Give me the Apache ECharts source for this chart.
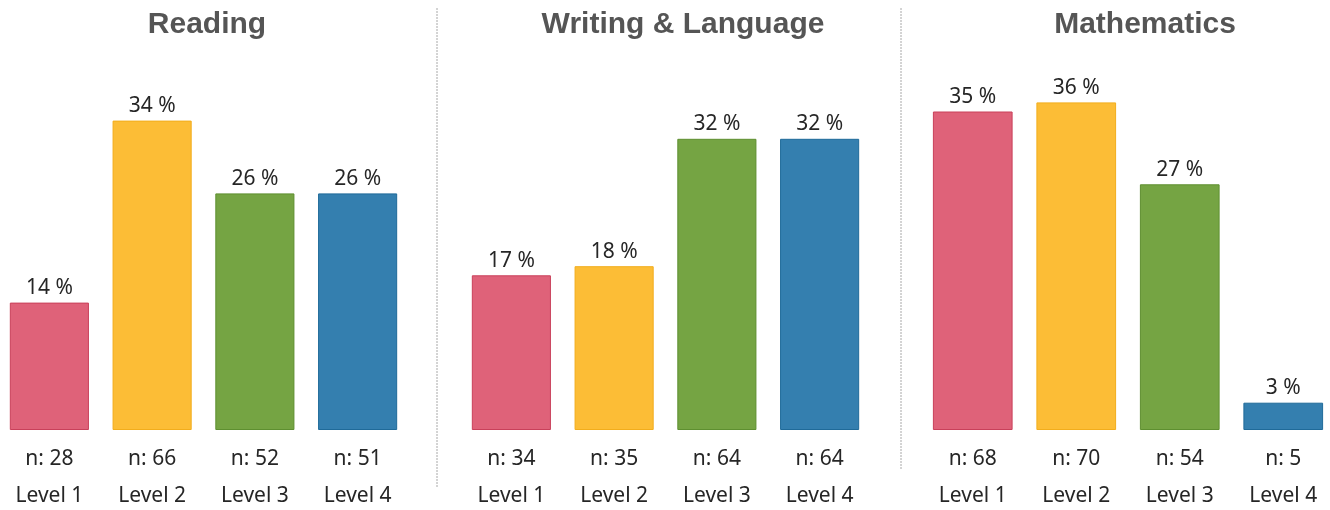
<!DOCTYPE html>
<html>
<head>
<meta charset="utf-8">
<script src="https://cdn.jsdelivr.net/npm/echarts@6/dist/echarts.min.js"></script>
<style>
  html, body { margin: 0; padding: 0; background: #fff; }
  #chart { width: 1330px; height: 510px; }
</style>
</head>
<body>
<div id="chart"></div>
<script>
// Achievement level distribution per subject
const levels = ['Level 1', 'Level 2', 'Level 3', 'Level 4'];
const subjects = ['Reading', 'Writing & Language', 'Mathematics'];

const readingPct = [14, 34, 26, 26];
const readingN = [28, 66, 52, 51];
const writingPct = [17, 18, 32, 32];
const writingN = [34, 35, 64, 64];
const mathPct = [35, 36, 27, 3];
const mathN = [68, 70, 54, 5];

const levelColors = ['#df6279', '#fcbd36', '#75a443', '#347faf'];
const levelBorders = ['#c9405a', '#f2ad1c', '#5e8f30', '#1f6a99'];

const panels = [
  { pct: readingPct, n: readingN, left: -2, width: 411, titleX: 202 },
  { pct: writingPct, n: writingN, left: 460, width: 411, titleX: 678 },
  { pct: mathPct, n: mathN, left: 921, width: 414, titleX: 1140 }
];

const labelFont = '"Noto Sans", "Open Sans", sans-serif';

const option = {
  animation: false,
  backgroundColor: '#ffffff',
  title: panels.map((p, i) => ({
    text: subjects[i],
    left: p.titleX,
    top: 5,
    textAlign: 'center',
    textStyle: {
      fontFamily: '"Liberation Sans", Arial, sans-serif',
      fontWeight: 'bold',
      fontSize: 30,
      color: '#555555'
    }
  })),
  grid: panels.map(p => ({
    left: p.left, width: p.width, top: 66, bottom: 80,
    outerBoundsMode: 'none', containLabel: false
  })),
  xAxis: panels.map((p, i) => ({
    type: 'category',
    gridIndex: i,
    data: levels,
    axisLine: { show: false },
    axisTick: { show: false },
    axisLabel: {
      interval: 0,
      margin: 11,
      fontFamily: labelFont,
      fontSize: 21,
      lineHeight: 37,
      color: '#262626',
      formatter: (value, idx) => 'n: ' + p.n[idx] + '\n' + value
    }
  })),
  yAxis: panels.map((p, i) => ({
    type: 'value',
    gridIndex: i,
    min: 0,
    max: 40,
    show: false,
    splitLine: { show: false }
  })),
  series: panels.map((p, i) => ({
    type: 'bar',
    xAxisIndex: i,
    yAxisIndex: i,
    barCategoryGap: '23%',
    data: p.pct.map((v, k) => ({
      value: v,
      itemStyle: { color: levelColors[k], borderColor: levelBorders[k], borderWidth: 1 }
    })),
    label: {
      show: true,
      position: 'top',
      distance: 4,
      formatter: '{c} %',
      fontFamily: labelFont,
      fontSize: 21,
      color: '#262626'
    }
  })),
  graphic: [
    {
      type: 'line',
      shape: { x1: 437, y1: 8, x2: 437, y2: 488 },
      style: { stroke: '#a8a8a8', lineWidth: 1, lineDash: [2, 1] }
    },
    {
      type: 'line',
      shape: { x1: 901, y1: 8, x2: 901, y2: 470 },
      style: { stroke: '#a8a8a8', lineWidth: 1, lineDash: [2, 1] }
    }
  ]
};

const chart = echarts.init(document.getElementById('chart'), null, { renderer: 'canvas' });
chart.setOption(option);
</script>
</body>
</html>
